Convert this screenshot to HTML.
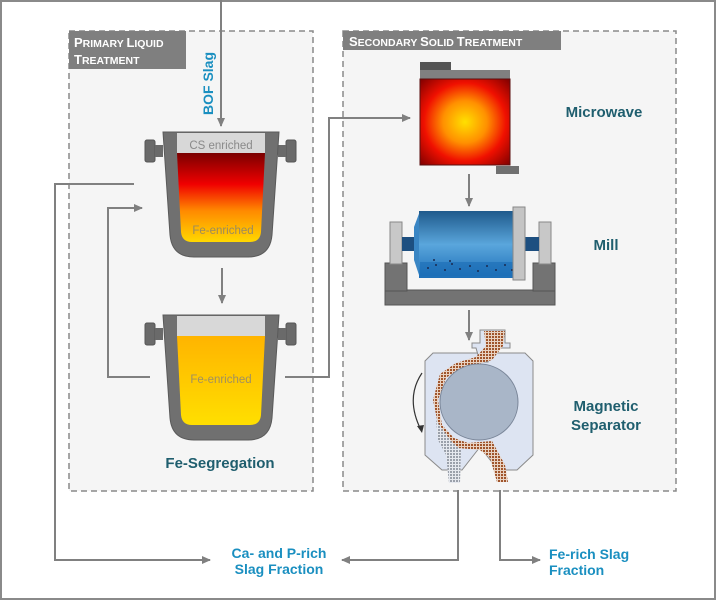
<!DOCTYPE html>
<html><head><style>html,body{margin:0;padding:0;background:#fff}svg{display:block}</style></head><body>
<svg width="716" height="600" viewBox="0 0 716 600" xmlns="http://www.w3.org/2000/svg" font-family="Liberation Sans, sans-serif">
<defs>
<marker id="ar" markerWidth="10" markerHeight="10" refX="8" refY="5" orient="auto" markerUnits="userSpaceOnUse"><path d="M0,1 L9,5 L0,9 z" fill="#808080"/></marker>
<linearGradient id="molten" x1="0" y1="0" x2="0" y2="1"><stop offset="0" stop-color="#7a0000"/><stop offset="0.35" stop-color="#f00000"/><stop offset="0.65" stop-color="#ff8a00"/><stop offset="1" stop-color="#ffd800"/></linearGradient>
<linearGradient id="yel" x1="0" y1="0" x2="0" y2="1"><stop offset="0" stop-color="#ffb400"/><stop offset="1" stop-color="#ffdf00"/></linearGradient>
<radialGradient id="mw" cx="0.5" cy="0.5" r="0.7"><stop offset="0" stop-color="#ffe000"/><stop offset="0.35" stop-color="#ff9000"/><stop offset="0.65" stop-color="#f01000"/><stop offset="1" stop-color="#800000"/></radialGradient>
<linearGradient id="drum" x1="0" y1="0" x2="0" y2="1"><stop offset="0" stop-color="#1f5a8c"/><stop offset="0.5" stop-color="#5aa6dc"/><stop offset="1" stop-color="#1d6fb8"/></linearGradient>
<pattern id="br" width="3" height="3" patternUnits="userSpaceOnUse"><rect width="3" height="3" fill="#e8d2c2"/><rect width="2" height="2" fill="#a0552c"/></pattern>
<pattern id="gr" width="3" height="3" patternUnits="userSpaceOnUse"><rect width="3" height="3" fill="#e5e8ee"/><rect width="2" height="2" fill="#9aa0aa"/></pattern>
</defs>
<rect x="1" y="1" width="714" height="598" fill="#fff" stroke="#8a8a8a" stroke-width="2"/>
<rect x="69" y="31" width="244" height="460" fill="#f5f5f5" stroke="#8a8a8a" stroke-width="1.5" stroke-dasharray="6,4"/>
<rect x="343" y="31" width="333" height="460" fill="#f5f5f5" stroke="#8a8a8a" stroke-width="1.5" stroke-dasharray="6,4"/>
<rect x="69" y="31" width="117" height="38" fill="#7f7f7f"/>
<text x="74" y="47" fill="#fff" font-weight="bold" font-size="13">P<tspan font-size="10.5">RIMARY </tspan>L<tspan font-size="10.5">IQUID</tspan></text>
<text x="74" y="64" fill="#fff" font-weight="bold" font-size="13">T<tspan font-size="10.5">REATMENT</tspan></text>
<rect x="343" y="31" width="218" height="19" fill="#7f7f7f"/>
<text x="349" y="46" fill="#fff" font-weight="bold" font-size="13">S<tspan font-size="10.5">ECONDARY </tspan>S<tspan font-size="10.5">OLID </tspan>T<tspan font-size="10.5">REATMENT</tspan></text>
<line x1="221" y1="0" x2="221" y2="126" stroke="#808080" stroke-width="2" marker-end="url(#ar)"/>
<text transform="translate(213,115) rotate(-90)" fill="#1a8fc0" font-weight="bold" font-size="14">BOF Slag</text>
<g>
<rect x="145" y="140" width="10" height="22" rx="2" fill="#6a6a6a" stroke="#555"/>
<rect x="155" y="145" width="8" height="12" fill="#6a6a6a"/>
<rect x="286" y="140" width="10" height="22" rx="2" fill="#6a6a6a" stroke="#555"/>
<rect x="278" y="145" width="8" height="12" fill="#6a6a6a"/>
<path d="M163,132 H279 L272,235 Q270,257 248,257 H194 Q172,257 170,235 Z" fill="#707070" stroke="#5a5a5a"/>
<rect x="177" y="133" width="88" height="20" fill="#d8d8d8"/>
<path d="M177,153 H265 L261,232 Q260,242 250,242 H192 Q182,242 181,232 Z" fill="url(#molten)"/>
<text x="221" y="149" text-anchor="middle" fill="#8a8a8a" font-size="11.5">CS enriched</text>
<text x="223" y="234" text-anchor="middle" fill="#9a8a60" font-size="11.5">Fe-enriched</text>
</g>
<line x1="222" y1="268" x2="222" y2="303" stroke="#808080" stroke-width="2" marker-end="url(#ar)"/>
<g transform="translate(0,183)">
<rect x="145" y="140" width="10" height="22" rx="2" fill="#6a6a6a" stroke="#555"/>
<rect x="155" y="145" width="8" height="12" fill="#6a6a6a"/>
<rect x="286" y="140" width="10" height="22" rx="2" fill="#6a6a6a" stroke="#555"/>
<rect x="278" y="145" width="8" height="12" fill="#6a6a6a"/>
<path d="M163,132 H279 L272,235 Q270,257 248,257 H194 Q172,257 170,235 Z" fill="#707070" stroke="#5a5a5a"/>
<rect x="177" y="133" width="88" height="20" fill="#d8d8d8"/>
<path d="M177,153 H265 L261,232 Q260,242 250,242 H192 Q182,242 181,232 Z" fill="url(#yel)"/>
<text x="221" y="200" text-anchor="middle" fill="#a09060" font-size="11.5">Fe-enriched</text>
</g>
<text x="220" y="468" text-anchor="middle" fill="#1f5e6e" font-weight="bold" font-size="15">Fe-Segregation</text>
<polyline points="134,184 55,184 55,560 210,560" fill="none" stroke="#808080" stroke-width="2" marker-end="url(#ar)"/>
<polyline points="150,377 108,377 108,208 142,208" fill="none" stroke="#808080" stroke-width="2" marker-end="url(#ar)"/>
<polyline points="285,377 329,377 329,118 410,118" fill="none" stroke="#808080" stroke-width="2" marker-end="url(#ar)"/>
<rect x="420" y="62" width="31" height="9" fill="#555"/>
<rect x="420" y="70" width="90" height="9" fill="#808080"/>
<rect x="420" y="79" width="90" height="86" fill="url(#mw)" stroke="#5a1010"/>
<rect x="496" y="166" width="23" height="8" fill="#707070"/>
<text x="604" y="117" text-anchor="middle" fill="#1f5e6e" font-weight="bold" font-size="15">Microwave</text>
<line x1="469" y1="174" x2="469" y2="206" stroke="#808080" stroke-width="2" marker-end="url(#ar)"/>
<rect x="385" y="290" width="170" height="15" fill="#737373" stroke="#555"/>
<rect x="385" y="263" width="22" height="28" fill="#737373" stroke="#555"/>
<rect x="533" y="263" width="22" height="28" fill="#737373" stroke="#555"/>
<rect x="390" y="222" width="12" height="42" fill="#c8c8c8" stroke="#888"/>
<rect x="539" y="222" width="12" height="42" fill="#c8c8c8" stroke="#888"/>
<rect x="402" y="237" width="14" height="14" fill="#1d4f80"/>
<rect x="525" y="237" width="14" height="14" fill="#1d4f80"/>
<path d="M420,211 L414,227 L414,260 L420,278 Z" fill="#3a86c4"/>
<rect x="419" y="211" width="100" height="67" fill="url(#drum)"/>
<path d="M519,211 L525,227 L525,260 L519,278 Z" fill="#3a86c4"/>
<rect x="420" y="262" width="98" height="14" fill="#1a6cb5" opacity="0.6"/>
<g fill="#1a2a50"><circle cx="428" cy="268" r="1"/><circle cx="436" cy="265" r="1"/><circle cx="445" cy="270" r="1"/><circle cx="452" cy="264" r="1"/><circle cx="460" cy="269" r="1"/><circle cx="470" cy="266" r="1"/><circle cx="478" cy="271" r="1"/><circle cx="487" cy="266" r="1"/><circle cx="496" cy="270" r="1"/><circle cx="505" cy="265" r="1"/><circle cx="512" cy="270" r="1"/><circle cx="434" cy="260" r="1"/><circle cx="450" cy="261" r="1"/></g>
<rect x="513" y="207" width="12" height="73" fill="#c4c4c4" stroke="#888"/>
<text x="606" y="250" text-anchor="middle" fill="#1f5e6e" font-weight="bold" font-size="15">Mill</text>
<line x1="469" y1="310" x2="469" y2="340" stroke="#808080" stroke-width="2" marker-end="url(#ar)"/>
<!-- separator -->
<path d="M433,353 H525 L533,361 V455 L517,470 H498 L480,447 L462,470 H442 L425,455 V361 Z" fill="#dde4f2" stroke="#8a8a8a"/>
<path d="M480,330 H505 V343 H510 V348 H490 L488,362 H480 L476,348 H472 V343 H480 Z" fill="#dde4f2" stroke="#8a8a8a"/>
<path d="M484,331 H505 L503,346 L492,360 L478,364 L460,368 L446,378 L438,400 L442,425 L454,438 L468,443 L492,441 L505,465 L508,482 L497,482 L490,458 L480,450 L458,448 L440,434 L433,400 L440,374 L456,363 L476,357 L486,346 Z" fill="url(#br)"/>
<path d="M436,420 L452,442 L461,450 L460,483 L449,483 L446,455 L438,440 Z" fill="url(#gr)"/>
<ellipse cx="479" cy="402" rx="39" ry="38" fill="#a9b6c8" stroke="#7a8699"/>
<path d="M422,373 Q405,398 421,430" fill="none" stroke="#333" stroke-width="1.2"/>
<path d="M417,426 L422,433 L424,425" fill="#333"/>
<text x="606" y="411" text-anchor="middle" fill="#1f5e6e" font-weight="bold" font-size="15">Magnetic</text>
<text x="606" y="430" text-anchor="middle" fill="#1f5e6e" font-weight="bold" font-size="15">Separator</text>
<polyline points="458,490 458,560 342,560" fill="none" stroke="#808080" stroke-width="2" marker-end="url(#ar)"/>
<polyline points="500,490 500,560 540,560" fill="none" stroke="#808080" stroke-width="2" marker-end="url(#ar)"/>
<text x="279" y="558" text-anchor="middle" fill="#1a8fc0" font-weight="bold" font-size="14">Ca- and P-rich</text>
<text x="279" y="574" text-anchor="middle" fill="#1a8fc0" font-weight="bold" font-size="14">Slag Fraction</text>
<text x="549" y="559" fill="#1a8fc0" font-weight="bold" font-size="14">Fe-rich Slag</text>
<text x="549" y="575" fill="#1a8fc0" font-weight="bold" font-size="14">Fraction</text>
</svg>
</body></html>
